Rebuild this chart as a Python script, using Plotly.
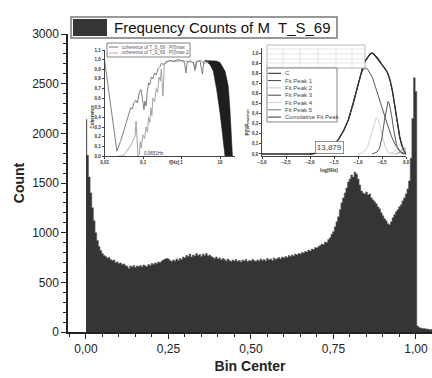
import numpy as np
import plotly.graph_objects as go

# ---------------- main histogram data ----------------
bin_width = 0.005
counts = [
    2140, 1780, 1560, 1400, 1250, 1120, 1000, 920, 860, 820,
    790, 770, 760, 745, 750, 730, 720, 725, 700, 705,
    690, 695, 680, 685, 670, 660, 640, 665, 655, 670,
    650, 665, 660, 670, 655, 675, 665, 660, 680, 670,
    690, 680, 695, 690, 705, 700, 715, 725, 735, 740,
    735, 720, 710, 725, 715, 735, 720, 740, 730, 755,
    745, 770, 760, 785, 755, 775, 765, 790, 770, 780,
    760, 785, 770, 790, 765, 775, 760, 750, 740, 755,
    735, 745, 725, 740, 730, 715, 735, 720, 710, 725,
    715, 730, 710, 720, 705, 725, 715, 730, 710, 720,
    715, 730, 720, 710, 725, 715, 735, 720, 730, 715,
    740, 725, 735, 720, 745, 730, 740, 750, 735, 755,
    745, 760, 750, 770, 760, 775, 765, 785, 775, 790,
    785, 800, 795, 810, 805, 825, 815, 835, 830, 850,
    845, 860, 870, 885, 880, 905, 900, 930, 950, 985,
    1010, 1060, 1110, 1160, 1230, 1300, 1350, 1400, 1450, 1510,
    1540, 1580, 1560, 1610, 1590, 1540, 1480, 1420, 1400, 1390,
    1410, 1380, 1390, 1350, 1330, 1310, 1290, 1260, 1240, 1200,
    1170, 1140, 1120, 1090, 1080, 1110, 1150, 1180, 1210, 1230,
    1260, 1280, 1320, 1350, 1390, 1440, 1520, 1750, 2150, 2560,
    2420,
    60, 45, 40, 35, 35, 30, 30, 25, 25, 25,
]
bin_centers = np.round(np.arange(len(counts)) * bin_width, 3)

x_ticks = [0, 0.25, 0.5, 0.75, 1.0]
legend_label = "Frequency Counts of M\u00a0 T_S_69"

# ---------------- inset 1 (coherence) data ----------------
cohA_f = [0.01, 0.021, 0.026, 0.031, 0.036, 0.042, 0.048, 0.053, 0.058, 0.065, 0.072, 0.08,
          0.088, 0.095, 0.10, 0.106, 0.112, 0.12, 0.13, 0.14, 0.15, 0.165, 0.18, 0.2, 0.22,
          0.25, 0.28, 0.3, 0.35, 0.4, 0.5, 0.6, 0.8, 1.0, 1.2, 1.3, 1.4, 1.7, 2.0, 2.3, 2.5,
          3.0, 3.5, 3.8, 4.5, 5.0]
cohA_v = [1.0, 0.05, 0.15, 0.25, 0.33, 0.42, 0.50, 0.49, 0.55, 0.58, 0.55, 0.66,
          0.69, 0.62, 0.55, 0.48, 0.57, 0.52, 0.68, 0.76, 0.74, 0.82, 0.80, 0.86, 0.84,
          0.91, 0.93, 0.96, 0.95, 0.98, 0.99, 0.98, 1.0, 0.99, 0.97, 0.86, 0.97, 0.99, 0.97, 0.90, 0.98,
          0.99, 0.85, 0.98, 0.99, 0.97]
cohB_f = [0.022, 0.03, 0.036, 0.043, 0.05, 0.056, 0.062, 0.066, 0.07, 0.074, 0.08, 0.085,
          0.09, 0.1, 0.11, 0.12, 0.13, 0.14, 0.15, 0.16, 0.17, 0.18, 0.2, 0.22, 0.24, 0.26,
          0.28, 0.3, 0.33, 0.36, 0.4, 0.5, 0.7, 1.0, 1.5, 2.1, 2.2, 2.4, 3.2, 4.0, 5.0]
cohB_v = [0.0, 0.0, 0.04, 0.09, 0.12, 0.17, 0.20, 0.36, 0.08, 0.0, 0.02, 0.15,
          0.08, 0.22, 0.18, 0.30, 0.25, 0.40, 0.35, 0.50, 0.42, 0.60, 0.56, 0.70, 0.66, 0.82,
          0.78, 0.90, 0.62, 0.95, 0.97, 0.99, 0.98, 0.99, 0.98, 0.97, 0.88, 0.98, 0.99, 0.96, 0.98]
dense_f = [4.0, 6.0, 8.0, 10.0, 12.0, 13.5, 15.0, 16.4, 18.0, 20.0, 21.0,
           13.5, 12.2, 11.0, 10.0, 8.2, 6.7, 5.5, 4.0]
dense_v = [0.99, 0.99, 0.985, 0.97, 0.92, 0.88, 0.80, 0.72, 0.50, 0.17, 0.0,
           0.0, 0.17, 0.35, 0.45, 0.69, 0.88, 0.95, 0.99]
coh_yticks = [0, 0.1, 0.2, 0.3, 0.4, 0.5, 0.6, 0.7, 0.8, 0.9, 1.0, 1.1]
coh_ytext = ["0,0", "0,1", "0,2", "0,3", "0,4", "0,5", "0,6", "0,7", "0,8", "0,9", "1,0", "1,1"]
coh_xticks = [0.01, 0.1, 1, 10]
coh_xtext = ["0,01", "0,1", "1", "10"]

# ---------------- inset 2 (peak fit) data ----------------
c_x = [-3.0, -2.0, -1.8, -1.6, -1.5, -1.4, -1.3, -1.2, -1.1, -1.0, -0.95, -0.9, -0.85, -0.8,
       -0.75, -0.71, -0.67, -0.62, -0.57, -0.52, -0.47, -0.43, -0.38, -0.33, -0.28, -0.23,
       -0.18, -0.13, -0.08, -0.04, 0.0]
c_y = [0.0, 0.0, 0.01, 0.05, 0.09, 0.15, 0.23, 0.34, 0.50, 0.69, 0.78, 0.86, 0.92, 0.96,
       0.99, 1.0, 0.99, 0.96, 0.93, 0.89, 0.86, 0.84, 0.80, 0.73, 0.62, 0.47,
       0.33, 0.17, 0.08, 0.03, 0.01]
cum_x = [-2.0, -1.8, -1.6, -1.5, -1.4, -1.3, -1.2, -1.1, -1.0, -0.95, -0.9, -0.85, -0.8,
         -0.75, -0.71, -0.67, -0.62, -0.57, -0.52, -0.47, -0.43, -0.38, -0.33, -0.28, -0.23,
         -0.18, -0.13, -0.08, -0.04, 0.0]
cum_y = [0.0, 0.01, 0.05, 0.09, 0.15, 0.23, 0.34, 0.50, 0.69, 0.78, 0.86, 0.92, 0.96,
         0.99, 1.0, 0.99, 0.97, 0.94, 0.90, 0.86, 0.83, 0.80, 0.72, 0.61, 0.46,
         0.32, 0.16, 0.07, 0.03, 0.0]
p1_x = [-2.0, -1.8, -1.6, -1.5, -1.4, -1.3, -1.2, -1.1, -1.0, -0.95, -0.9, -0.85, -0.8, -0.7,
        -0.6, -0.5, -0.4, -0.3, -0.2, -0.1, 0.0]
p1_y = [0.0, 0.01, 0.05, 0.09, 0.15, 0.23, 0.34, 0.50, 0.68, 0.77, 0.83, 0.85, 0.84, 0.76,
        0.62, 0.46, 0.31, 0.17, 0.07, 0.02, 0.0]
p2_x = [-1.0, -0.9, -0.8, -0.75, -0.7, -0.65, -0.62, -0.58, -0.53, -0.48, -0.43, -0.38, -0.3, -0.2]
p2_y = [0.0, 0.01, 0.07, 0.15, 0.25, 0.33, 0.36, 0.34, 0.26, 0.15, 0.07, 0.02, 0.0, 0.0]
p3_x = [-0.7, -0.6, -0.55, -0.5, -0.45, -0.4, -0.375, -0.35, -0.3, -0.25, -0.2, -0.15, -0.1, -0.05, 0.0]
p3_y = [0.0, 0.02, 0.06, 0.16, 0.33, 0.49, 0.52, 0.50, 0.38, 0.22, 0.10, 0.04, 0.01, 0.0, 0.0]
p4_x = [-0.35, -0.25, -0.18, -0.12, -0.06, 0.0]
p4_y = [0.0, 0.02, 0.07, 0.10, 0.05, 0.01]
p5_x = [-0.2, -0.12, -0.07, -0.03, 0.0]
p5_y = [0.0, 0.02, 0.05, 0.06, 0.04]
fit_names = ["C", "Fit Peak 1", "Fit Peak 2", "Fit Peak 3", "Fit Peak 4", "Fit Peak 5", "Cumulative Fit Peak"]
fit_colors = ["#222222", "#444444", "#c8c8c8", "#444444", "#cfcfcf", "#777777", "#333333"]
center_value = "13,879"

FONT = "Liberation Sans, Arial, sans-serif"
W, H = 432, 378
L, R, T, B = 68, 0, 34, 46


def px(xp):
    return (xp - L) / (W - L - R)


def py(yp):
    return (H - B - yp) / (H - T - B)


fig = go.Figure()

fig.add_trace(go.Scatter(x=bin_centers, y=counts, mode="lines", line_shape="hvh",
                         fill="tozeroy", fillcolor="#353535",
                         line=dict(color="#5a5a5a", width=0.6),
                         showlegend=False, hoverinfo="skip"))

# inset 1
fig.add_trace(go.Scatter(x=dense_f, y=dense_v, xaxis="x2", yaxis="y2", mode="lines",
                         fill="toself", fillcolor="#1e1e1e",
                         line=dict(color="#1e1e1e", width=0.6), showlegend=False))
fig.add_trace(go.Scatter(x=cohB_f, y=cohB_v, xaxis="x2", yaxis="y2", mode="lines",
                         line=dict(color="#9a9a9a", width=0.9), showlegend=False))
fig.add_trace(go.Scatter(x=cohA_f, y=cohA_v, xaxis="x2", yaxis="y2", mode="lines",
                         line=dict(color="#707070", width=0.9), showlegend=False))

# inset 2
series = [(c_x, c_y), (p1_x, p1_y), (p2_x, p2_y), (p3_x, p3_y), (p4_x, p4_y), (p5_x, p5_y), (cum_x, cum_y)]
widths = [1.3, 0.9, 0.9, 0.9, 0.9, 0.9, 1.0]
for (sx, sy), col, w in zip(series, fit_colors, widths):
    fig.add_trace(go.Scatter(x=sx, y=sy, xaxis="x3", yaxis="y3", mode="lines",
                             line=dict(color=col, width=w), showlegend=False))

axis_common = dict(showgrid=False, zeroline=False, showline=True, ticks="outside", automargin=False)

shapes = []
annotations = []

# main legend
shapes.append(dict(type="rect", xref="paper", yref="paper", x0=px(71), x1=px(337), y0=py(38), y1=py(17),
                   line=dict(color="#777777", width=1.5), fillcolor="white", layer="above"))
shapes.append(dict(type="rect", xref="paper", yref="paper", x0=px(73), x1=px(107), y0=py(36), y1=py(19),
                   line=dict(width=0), fillcolor="#353535", layer="above"))
annotations.append(dict(xref="paper", yref="paper", x=px(112), y=py(27.5), xanchor="left", yanchor="middle",
                        text=legend_label, showarrow=False, font=dict(family=FONT, size=15, color="#111")))

# inset 1 decorations
shapes.append(dict(type="rect", xref="paper", yref="paper", x0=px(107), x1=px(190), y0=py(57), y1=py(43),
                   line=dict(color="#666", width=0.8), fillcolor="white", layer="above"))
for yy, col, txt in [(47, "#555", "coherence of T_S_69 \u00b7 P(f)max"), (53, "#999", "coherence of T_S_69 \u00b7 P(f)max 2")]:
    shapes.append(dict(type="line", xref="paper", yref="paper", x0=px(109), x1=px(118), y0=py(yy), y1=py(yy),
                       line=dict(color=col, width=0.8), layer="above"))
    annotations.append(dict(xref="paper", yref="paper", x=px(120), y=py(yy), xanchor="left", yanchor="middle",
                            text=txt, showarrow=False, font=dict(family=FONT, size=4.5, color="#555")))
annotations.append(dict(xref="paper", yref="paper", x=px(87), y=py(103), textangle=-90,
                        text="<b>Coherence</b>", showarrow=False, font=dict(family=FONT, size=4.5, color="#333")))
annotations.append(dict(xref="paper", yref="paper", x=px(167), y=py(162),
                        text="<b>f[Hz]</b>", showarrow=False, font=dict(family=FONT, size=4.5, color="#333")))
annotations.append(dict(xref="paper", yref="paper", x=px(142), y=py(153),
                        text="0,0651Hz", showarrow=False, font=dict(family=FONT, size=4.5, color="#333")))

# inset 2 decorations: table
shapes.append(dict(type="rect", xref="paper", yref="paper", x0=px(267), x1=px(365), y0=py(68), y1=py(45),
                   line=dict(color="#888", width=0.6), fillcolor="white", layer="above"))
for yy in [49, 54, 59, 63]:
    shapes.append(dict(type="line", xref="paper", yref="paper", x0=px(267), x1=px(365), y0=py(yy), y1=py(yy),
                       line=dict(color="#bbb", width=0.4), layer="above"))
for xx in [283, 300, 318, 336, 352]:
    shapes.append(dict(type="line", xref="paper", yref="paper", x0=px(xx), x1=px(xx), y0=py(68), y1=py(49),
                       line=dict(color="#bbb", width=0.4), layer="above"))
# inset 2 legend
shapes.append(dict(type="rect", xref="paper", yref="paper", x0=px(267), x1=px(337), y0=py(122), y1=py(68),
                   line=dict(color="#666", width=0.8), fillcolor="white", layer="above"))
for i, (nm, col) in enumerate(zip(fit_names, fit_colors)):
    yy = 73.3 + 7.3 * i
    shapes.append(dict(type="line", xref="paper", yref="paper", x0=px(268), x1=px(281), y0=py(yy), y1=py(yy),
                       line=dict(color=col, width=1.0), layer="above"))
    annotations.append(dict(xref="paper", yref="paper", x=px(282.5), y=py(yy), xanchor="left", yanchor="middle",
                            text=nm, showarrow=False, font=dict(family=FONT, size=6, color="#444")))
annotations.append(dict(xref="paper", yref="paper", x=px(247), y=py(107), textangle=-90,
                        text="<b>P(f)/P<sub>maximum</sub></b>", showarrow=False,
                        font=dict(family=FONT, size=4.5, color="#333")))
annotations.append(dict(xref="paper", yref="paper", x=px(340), y=py(171),
                        text="<b>log(f/Hz)</b>", showarrow=False, font=dict(family=FONT, size=4.5, color="#333")))
annotations.append(dict(xref="paper", yref="paper", x=px(343.5), y=py(147),
                        text=center_value, showarrow=False, bordercolor="#777", borderwidth=0.8, borderpad=1,
                        bgcolor="white", font=dict(family=FONT, size=8, color="#444")))

fig.update_layout(
    width=W, height=H,
    margin=dict(l=L, r=R, t=T, b=B),
    paper_bgcolor="white", plot_bgcolor="white",
    separators=", ",
    font=dict(family=FONT, color="#222"),
    xaxis=dict(**axis_common, range=[-0.0545, 1.0485], tickvals=x_ticks, tickformat=".2f",
               ticklen=5, tickwidth=1.2, tickcolor="#222", linecolor="#222", linewidth=1.5,
               tickfont=dict(size=12, color="#222"),
               minor=dict(dtick=0.05, tick0=0, ticks="outside", ticklen=3, tickcolor="#222", tickwidth=1),
               title=dict(text="<b>Bin Center</b>", font=dict(size=14, color="#222"), standoff=6)),
    yaxis=dict(**axis_common, range=[0, 3000], dtick=500, ticklen=5, tickwidth=1.2, tickcolor="#222",
               linecolor="#222", linewidth=1.5, tickfont=dict(size=12, color="#222"),
               minor=dict(dtick=100, tick0=0, ticks="outside", ticklen=3, tickcolor="#222", tickwidth=1),
               title=dict(text="<b>Count</b>", font=dict(size=14, color="#222"), standoff=4)),
    xaxis2=dict(**axis_common, domain=[px(104.5), px(235.4)], anchor="y2", type="log", range=[-2, 1.4],
                tickvals=coh_xticks, ticktext=coh_xtext, ticklen=2, tickwidth=0.6, linecolor="#444",
                linewidth=0.8, tickcolor="#444", tickfont=dict(size=4.5, color="#333", weight="bold")),
    yaxis2=dict(**axis_common, domain=[py(156), py(50)], anchor="x2", range=[0, 1.1],
                tickvals=coh_yticks, ticktext=coh_ytext, ticklen=2, tickwidth=0.6, linecolor="#444",
                linewidth=0.8, tickcolor="#444", tickfont=dict(size=4.5, color="#333", weight="bold")),
    xaxis3=dict(**axis_common, domain=[px(262), px(406)], anchor="y3", range=[-3, 0], dtick=0.5,
                tickformat=".1f", ticklen=2, tickwidth=0.6, linecolor="#444", linewidth=0.8,
                tickcolor="#444", tickfont=dict(size=4.5, color="#333", weight="bold")),
    yaxis3=dict(**axis_common, domain=[py(156), py(48)], anchor="x3", range=[-0.02, 1.05], dtick=0.1,
                tick0=0, tickformat=".1f", ticklen=2, tickwidth=0.6, linecolor="#444", linewidth=0.8,
                tickcolor="#444", tickfont=dict(size=4.5, color="#333", weight="bold")),
    shapes=shapes,
    annotations=annotations,
)

# remove the browser's default page margin so the 432x378 figure fills the window exactly
fig.write_html("out.html",
               config={"displayModeBar": False},
               post_script="document.body.style.margin='0';document.body.style.overflow='hidden';")
